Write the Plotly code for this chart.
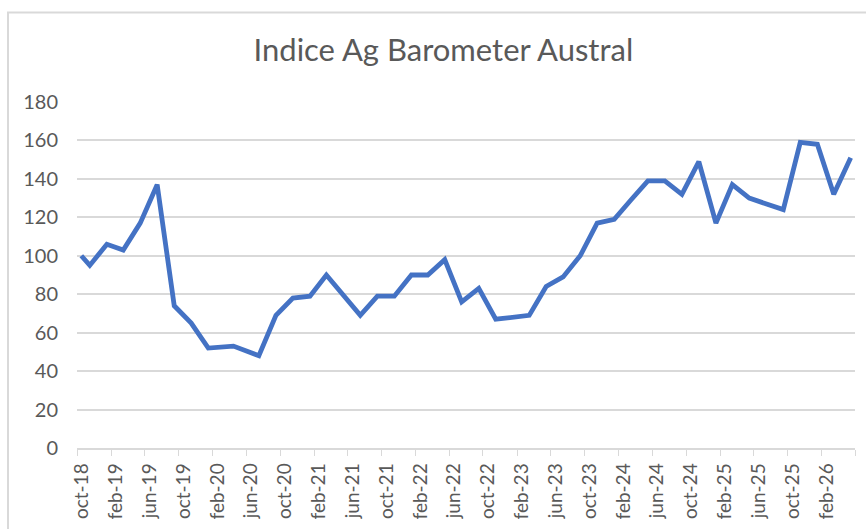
import plotly.graph_objects as go

# survey months and index values
months = [
    "2018-10", "2018-11", "2019-01", "2019-03", "2019-05", "2019-07", "2019-09",
    "2019-11", "2020-01", "2020-04", "2020-07", "2020-09", "2020-11", "2021-01",
    "2021-03", "2021-07", "2021-09", "2021-11", "2022-01", "2022-03", "2022-05",
    "2022-07", "2022-09", "2022-11", "2023-03", "2023-05", "2023-07", "2023-09",
    "2023-11", "2024-01", "2024-03", "2024-05", "2024-07", "2024-09", "2024-11",
    "2025-01", "2025-03", "2025-05", "2025-09", "2025-11", "2026-01", "2026-03",
    "2026-05",
]
index_values = [
    100, 95, 106, 103, 117, 137, 74,
    65, 52, 53, 48, 69, 78, 79,
    90, 69, 79, 79, 90, 90, 98,
    76, 83, 67, 69, 84, 89, 100,
    117, 119, 129, 139, 139, 132, 149,
    117, 137, 130, 124, 159, 158, 132,
    151,
]

tick_months = [
    "2018-10-01", "2019-02-01", "2019-06-01", "2019-10-01", "2020-02-01",
    "2020-06-01", "2020-10-01", "2021-02-01", "2021-06-01", "2021-10-01",
    "2022-02-01", "2022-06-01", "2022-10-01", "2023-02-01", "2023-06-01",
    "2023-10-01", "2024-02-01", "2024-06-01", "2024-10-01", "2025-02-01",
    "2025-06-01", "2025-10-01", "2026-02-01",
]
tick_labels = [
    "oct-18", "feb-19", "jun-19", "oct-19", "feb-20",
    "jun-20", "oct-20", "feb-21", "jun-21", "oct-21",
    "feb-22", "jun-22", "oct-22", "feb-23", "jun-23",
    "oct-23", "feb-24", "jun-24", "oct-24", "feb-25",
    "jun-25", "oct-25", "feb-26",
]

text_color = "#595959"
grid_color = "#d9d9d9"

fig = go.Figure()
fig.add_trace(go.Scatter(
    x=months, y=index_values, mode="lines",
    xperiod="M1", xperiodalignment="middle",
    line=dict(color="#4472C4", width=4.8),
    showlegend=False,
))

# chart border (left and top edges visible in the original crop)
fig.add_shape(
    type="path", xref="paper", yref="paper",
    path="M -0.0887,-0.3 L -0.0887,1.259 L 1.2,1.259",
    line=dict(color=grid_color, width=2),
)

fig.update_layout(
    width=866, height=529,
    margin=dict(l=77, r=11, t=102, b=81),
    paper_bgcolor="white", plot_bgcolor="white",
    font=dict(family="Lato, Open Sans, sans-serif", color=text_color, size=20),
    title=dict(
        text="Indice Ag Barometer Austral",
        font=dict(size=31, color=text_color),
        x=0.512, xref="container", xanchor="center",
        y=0.905, yref="container", yanchor="middle",
    ),
)

fig.update_xaxes(
    type="date", automargin=False,
    range=["2018-10-01", "2026-06-01"],
    tickmode="array", tickvals=tick_months, ticktext=tick_labels,
    tickfont=dict(size=19),
    tickangle=-90, ticks="outside", ticklen=6, tickcolor=grid_color,
    ticklabelshift=5, ticklabelstandoff=0,
    showline=True, linecolor=grid_color, linewidth=1.5,
    showgrid=False, zeroline=False,
    minor=dict(tickmode="linear", tick0="2026-06-01", dtick="M4",
               ticks="outside", ticklen=6, tickcolor=grid_color),
)

fig.update_yaxes(
    range=[0, 180], dtick=20, automargin=False,
    showgrid=True, gridcolor=grid_color, gridwidth=1.5,
    zeroline=False, showline=False, ticks="",
    ticklabelstandoff=18,
)

# drop the default body margin so the figure sits at the window's top-left
fig.write_html(
    "out.html",
    config={"displayModeBar": False},
    post_script="document.body.style.margin='0';",
)
